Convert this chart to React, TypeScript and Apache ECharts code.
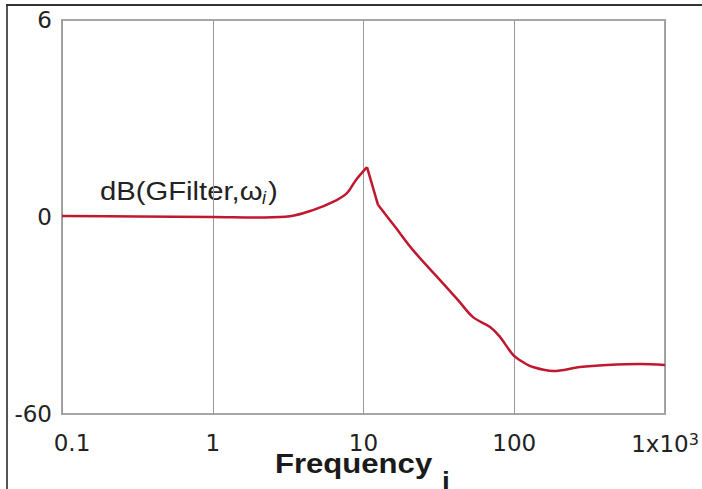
import React, { useEffect, useRef } from "react";
import * as echarts from "echarts";

const freq = [0.1, 0.314, 1.0, 2.22, 3.25, 4.62, 6.28, 7.77, 8.92, 10.55, 12.48, 16.2, 21.3, 32.2, 42.4, 53.3, 69.1, 80.4, 98.2, 114.3, 133, 181, 273, 412, 683, 1000];
const gainDb = [0.3, 0.15, 0, -0.15, 0.2, 2.1, 4.6, 7.3, 11.3, 15.2, 3.7, -3.0, -10.1, -19.2, -25.3, -30.5, -33.5, -36.5, -42.0, -44.2, -45.7, -46.9, -45.7, -45.1, -44.8, -45.1];
const peakIndex = 9;
const kneeIndex = 10;
const yTicks = [-60, 0, 60];
const yTickText = ["-60", "0", "6"];

export default function App() {
  const ref = useRef<HTMLDivElement>(null);
  useEffect(() => {
    if (!ref.current) return;
    const chart = echarts.init(ref.current, undefined, { renderer: "svg" });
    const labelFont = "'DejaVu Sans', sans-serif";
    const pts = freq.map((f, i) => [f, gainDb[i]]);
    const lineStyle = { color: "#c0182f", width: 2.5 };
    const mk = (data: number[][], smooth: number | boolean) => ({
      type: "line",
      data,
      showSymbol: false,
      smooth,
      lineStyle,
    });
    chart.setOption({
      animation: false,
      backgroundColor: "#ffffff",
      grid: {
        show: true,
        left: 62,
        right: 37,
        top: 20,
        bottom: 75,
        borderColor: "#a6a6a6",
        borderWidth: 2,
        backgroundColor: "transparent",
      },
      xAxis: {
        type: "log",
        logBase: 10,
        min: 0.1,
        max: 1000,
        axisLine: { show: false },
        axisTick: { show: false },
        splitLine: { show: true, lineStyle: { color: "#9a9a9a", width: 1 } },
        axisLabel: {
          margin: 17,
          color: "#222",
          fontSize: 23,
          fontFamily: labelFont,
          formatter: (v: number) => {
            if (v >= 999) return "{n|1x10}{sup|3}";
            if (v < 0.5) return "{f|0.1}";
            return "{n|" + String(Math.round(v)) + "}";
          },
          rich: {
            n: { fontSize: 23, fontFamily: labelFont, color: "#222" },
            f: { fontSize: 23, fontFamily: labelFont, color: "#222", padding: [0, 0, 0, 20] },
            sup: { fontSize: 16, fontFamily: labelFont, color: "#222", verticalAlign: "top", padding: [0, 0, 10, 0] },
          },
        },
      },
      yAxis: {
        type: "value",
        min: -60,
        max: 60,
        interval: 60,
        axisLine: { show: false },
        axisTick: { show: false },
        splitLine: { show: false },
        axisLabel: {
          margin: 10,
          color: "#222",
          fontSize: 23,
          fontFamily: labelFont,
          formatter: (v: number) => {
            const i = yTicks.indexOf(Math.round(v));
            return i >= 0 ? yTickText[i] : "";
          },
        },
      },
      series: [
        mk(pts.slice(0, peakIndex + 1), 0.35),
        mk(pts.slice(peakIndex, kneeIndex + 1), false),
        mk(pts.slice(kneeIndex), 0.35),
      ],
      graphic: [
        { type: "line", shape: { x1: 7, y1: 5, x2: 7, y2: 489 }, style: { stroke: "#555", lineWidth: 2 } },
        { type: "line", shape: { x1: 6, y1: 5, x2: 702, y2: 5 }, style: { stroke: "#333", lineWidth: 2 } },
        {
          type: "text",
          x: 100,
          y: 191,
          scaleX: 1.17,
          style: {
            text: "dB(GFilter,ω",
            font: "25px 'Liberation Sans', Arial, sans-serif",
            fill: "#222",
            verticalAlign: "middle",
            align: "left",
          },
        },
        {
          type: "text",
          x: 262,
          y: 198,
          style: {
            text: "i",
            font: "italic 18px 'Liberation Sans', Arial, sans-serif",
            fill: "#222",
            verticalAlign: "middle",
            align: "left",
          },
        },
        {
          type: "text",
          x: 268,
          y: 191,
          scaleX: 1.17,
          style: {
            text: ")",
            font: "25px 'Liberation Sans', Arial, sans-serif",
            fill: "#222",
            verticalAlign: "middle",
            align: "left",
          },
        },
        {
          type: "text",
          x: 275,
          y: 463,
          scaleX: 1.11,
          style: {
            text: "Frequency",
            font: "bold 28px 'Liberation Sans', Arial, sans-serif",
            fill: "#1a1a1a",
            verticalAlign: "middle",
            align: "left",
          },
        },
        {
          type: "text",
          x: 442,
          y: 481,
          style: {
            text: "i",
            font: "bold 28px 'Liberation Sans', Arial, sans-serif",
            fill: "#1a1a1a",
            verticalAlign: "middle",
            align: "left",
          },
        },
      ],
    });
    return () => chart.dispose();
  }, []);
  return <div ref={ref} style={{ position: "fixed", left: 0, top: 0, width: 702, height: 489 }} />;
}
